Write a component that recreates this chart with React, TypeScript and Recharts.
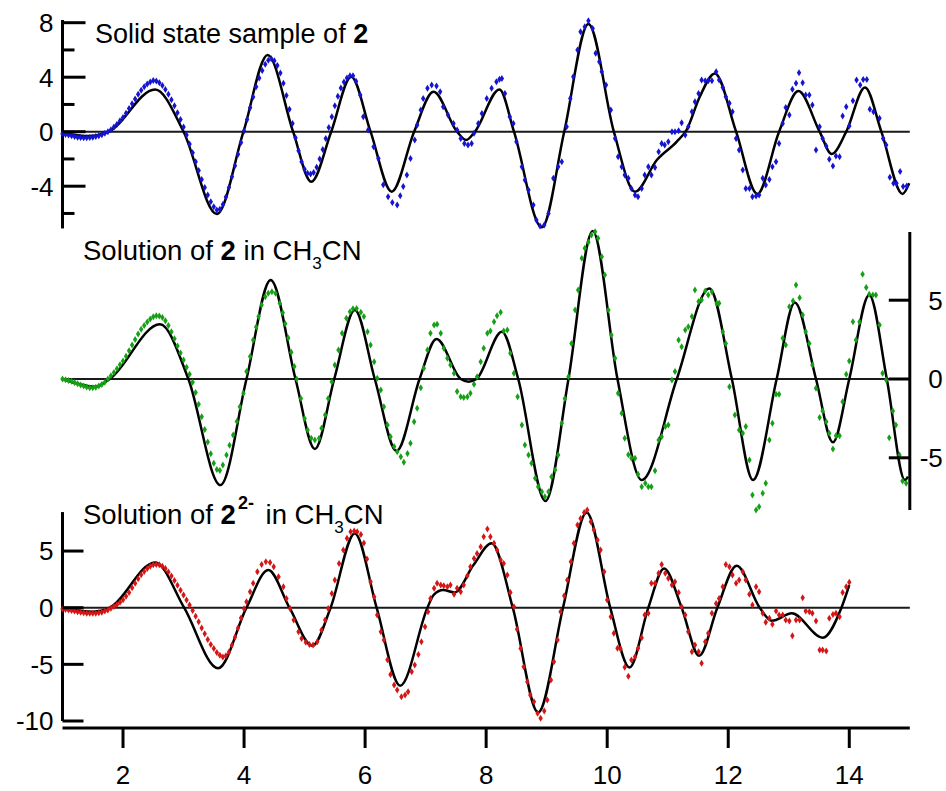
import React from 'react';
import { ComposedChart, Line, Scatter, XAxis, YAxis, ReferenceLine } from 'recharts';

// ---- tick values ----
const X_TICKS = [2, 4, 6, 8, 10, 12, 14];
const TOP_TICKS = [-6, -4, -2, 0, 2, 4, 6, 8];
const TOP_MAJOR = [-4, 0, 4, 8];
const MID_TICKS = [-5, 0, 5];
const BOT_TICKS = [-10, -5, 0, 5];

// ---- solid state sample (blue) ----
const TOP_FIT: [number, number][] = [
  [1.0, -0.07], [1.43, -0.32], [1.76, 0], [2.53, 3.1], [3.0, 0], [3.55, -6.04], [3.99, 0],
  [4.39, 5.63], [4.81, 0], [5.11, -3.67], [5.44, 0], [5.77, 4.03], [6.09, 0], [6.44, -4.4],
  [6.81, 0], [7.13, 2.93], [7.52, 0], [7.67, -0.61], [7.815, 0], [8.22, 3.1], [8.46, 0],
  [8.92, -7.02], [9.29, 0], [9.69, 7.9], [10.11, 0], [10.46, -4.4], [10.82, -2.08],
  [11.15, -0.73], [11.31, 0.12], [11.53, 2.57], [11.78, 4.28], [12.13, 0], [12.48, -4.57],
  [12.84, 0], [13.16, 2.98], [13.51, 0], [13.71, -1.64], [13.95, 0], [14.26, 3.25],
  [14.53, 0], [14.88, -4.57], [14.99, -3.79],
];
const TOP_DOTS: [number, number][] = [
  [1.0, -0.15], [1.05, -0.2], [1.1, -0.25], [1.15, -0.3], [1.2, -0.35], [1.25, -0.4], [1.3, -0.42],
  [1.35, -0.45], [1.4, -0.45], [1.45, -0.42], [1.5, -0.4], [1.55, -0.35], [1.6, -0.3], [1.65, -0.22],
  [1.7, -0.12], [1.75, 0], [1.8, 0.15], [1.85, 0.35], [1.9, 0.55], [1.95, 0.8], [2.0, 1.05],
  [2.05, 1.35], [2.1, 1.7], [2.15, 2.05], [2.2, 2.4], [2.25, 2.75], [2.3, 3.05], [2.35, 3.3],
  [2.4, 3.5], [2.45, 3.65], [2.5, 3.75], [2.55, 3.72], [2.6, 3.6], [2.65, 3.4], [2.7, 3.1],
  [2.75, 2.75], [2.8, 2.35], [2.85, 1.9], [2.9, 1.4], [2.95, 0.9], [3.0, 0.35], [3.05, -0.25],
  [3.1, -0.9], [3.15, -1.55], [3.2, -2.2], [3.25, -2.85], [3.3, -3.5], [3.35, -4.1], [3.4, -4.65],
  [3.45, -5.15], [3.5, -5.5], [3.55, -5.75], [3.6, -5.7], [3.65, -5.35], [3.7, -4.8], [3.75, -4.1],
  [3.8, -3.3], [3.85, -2.5], [3.9, -1.65], [3.95, -0.8], [4.0, 0.05], [4.05, 0.9], [4.1, 1.75],
  [4.15, 2.55], [4.2, 3.3], [4.25, 3.95], [4.3, 4.5], [4.35, 4.95], [4.4, 5.25], [4.45, 5.35],
  [4.5, 5.2], [4.55, 4.85], [4.6, 4.3], [4.65, 3.55], [4.7, 2.65], [4.75, 1.65], [4.8, 0.6],
  [4.85, -0.45], [4.9, -1.4], [4.95, -2.2], [5.0, -2.75], [5.05, -3.05], [5.1, -3.1], [5.15, -3.0],
  [5.2, -2.6], [5.25, -2.0], [5.3, -1.3], [5.35, -0.5], [5.4, 0.3], [5.45, 1.1], [5.5, 1.9],
  [5.55, 2.6], [5.6, 3.2], [5.65, 3.65], [5.7, 3.95], [5.75, 4.1], [5.8, 4.1], [5.85, 3.7],
  [5.92, 2.69], [5.97, 1.1], [6.05, 0.12], [6.14, -1.1], [6.22, -1.96], [6.3, -3.9], [6.38, -4.77],
  [6.45, -5.2], [6.53, -5.38], [6.58, -4.7], [6.63, -4.03], [6.69, -3.18], [6.75, -1.96],
  [6.82, -0.61], [6.86, 0.49], [6.92, 1.59], [6.96, 2.44], [7.03, 3.18], [7.1, 3.42], [7.18, 3.35],
  [7.24, 2.93], [7.29, 1.83], [7.37, 1.22], [7.46, 0.61], [7.52, 0.12], [7.58, -0.5], [7.64, -0.86],
  [7.7, -0.98], [7.76, -0.86], [7.8, -0.12], [7.87, 0.61], [7.93, 1.34], [8.01, 2.44], [8.09, 3.18],
  [8.17, 3.67], [8.22, 3.85], [8.26, 3.91], [8.31, 2.81], [8.39, 1.1], [8.45, 0.61], [8.5, -0.73],
  [8.59, -2.57], [8.64, -3.55], [8.7, -4.28], [8.78, -5.38], [8.83, -6.48], [8.89, -6.92],
  [8.96, -6.85], [9.03, -6.0], [9.11, -3.42], [9.19, -2.57], [9.25, -2.2], [9.33, 0.37],
  [9.39, 2.44], [9.44, 4.03], [9.51, 5.99], [9.56, 7.33], [9.63, 7.7], [9.69, 8.14], [9.76, 7.58],
  [9.81, 5.75], [9.87, 5.13], [9.91, 4.4], [9.98, 3.42], [10.06, 1.59], [10.13, -0.49],
  [10.18, -1.83], [10.24, -2.57], [10.29, -3.18], [10.35, -3.42], [10.4, -4.16], [10.46, -4.65],
  [10.51, -4.77], [10.57, -4.16], [10.62, -3.18], [10.68, -2.57], [10.73, -3.18], [10.79, -2.62],
  [10.85, -1.47], [10.9, -0.86], [10.95, -0.98], [11.01, -0.73], [11.07, 0], [11.12, 0],
  [11.18, 0.07], [11.23, 0.66], [11.29, -0.24], [11.34, 0.37], [11.4, 1.47], [11.45, 2.2],
  [11.51, 2.81], [11.56, 3.79], [11.62, 3.74], [11.67, 3.74], [11.73, 3.74], [11.8, 4.4],
  [11.85, 3.79], [11.91, 3.25], [11.96, 2.57], [12.02, 2.08], [12.07, 1.47], [12.13, -0.49],
  [12.18, -1.34], [12.24, -2.81], [12.29, -4.16], [12.35, -4.16], [12.4, -4.77], [12.46, -4.72],
  [12.51, -4.65], [12.57, -3.42], [12.62, -3.91], [12.68, -3.5], [12.73, -2.57], [12.79, -2.2],
  [12.84, -0.86], [12.9, 0.61], [12.95, 1.78], [13.01, 1.22], [13.06, 3.11], [13.12, 3.55],
  [13.17, 4.33], [13.23, 3.59], [13.28, 2.69], [13.34, 2.69], [13.39, 1.96], [13.45, -1.34],
  [13.51, 0.37], [13.56, -0.49], [13.62, -1.05], [13.67, -2.03], [13.73, -2.52], [13.78, -1.78],
  [13.84, -1.83], [13.89, 1.15], [13.95, 1.83], [14.0, 0.42], [14.06, 2.27], [14.12, 3.79],
  [14.18, 3.42], [14.23, 3.84], [14.29, 3.84], [14.34, 1.64], [14.4, 1.47], [14.5, 0.98],
  [14.56, -0.49], [14.61, -0.98], [14.67, -3.35], [14.73, -3.79], [14.78, -3.79], [14.84, -2.93],
  [14.89, -4.03], [14.95, -3.99],
];

// ---- solution of 2 in CH3CN (green) ----
const MID_FIT: [number, number][] = [
  [1.0, 0], [1.54, -0.49], [1.78, 0], [2.61, 3.47], [3.08, 0], [3.61, -6.73], [4.04, 0],
  [4.44, 6.28], [4.85, 0], [5.17, -4.44], [5.49, 0], [5.83, 4.38], [6.16, 0], [6.52, -4.57],
  [6.9, 0], [7.18, 2.54], [7.58, 0], [7.71, -0.17], [7.84, 0], [8.26, 3.0], [8.53, 0],
  [8.98, -7.74], [9.36, 0], [9.76, 9.39], [10.17, 0], [10.57, -6.41], [11.15, 0], [11.69, 5.75],
  [12.06, 0], [12.41, -6.41], [12.8, 0], [13.1, 4.86], [13.45, 0], [13.73, -4.02], [14.0, 0],
  [14.33, 5.33], [14.62, 0], [14.92, -6.41], [14.97, -6.2],
];
const MID_DOTS: [number, number][] = [
  [1.0, 0], [1.05, -0.05], [1.1, -0.1], [1.15, -0.15], [1.2, -0.22], [1.25, -0.3], [1.3, -0.38],
  [1.35, -0.45], [1.4, -0.5], [1.45, -0.55], [1.5, -0.55], [1.55, -0.52], [1.6, -0.45], [1.65, -0.35],
  [1.7, -0.2], [1.75, 0], [1.8, 0.2], [1.85, 0.42], [1.9, 0.65], [1.95, 0.9], [2.0, 1.15],
  [2.05, 1.45], [2.1, 1.8], [2.15, 2.15], [2.2, 2.5], [2.25, 2.85], [2.3, 3.15], [2.35, 3.4],
  [2.4, 3.62], [2.45, 3.8], [2.5, 3.95], [2.55, 4.02], [2.6, 4.0], [2.65, 3.9], [2.7, 3.7],
  [2.75, 3.4], [2.8, 3.0], [2.85, 2.55], [2.9, 2.1], [2.95, 1.65], [3.0, 1.2], [3.05, 0.75],
  [3.1, 0.3], [3.15, -0.2], [3.2, -0.85], [3.25, -1.6], [3.3, -2.4], [3.35, -3.2], [3.4, -4.0],
  [3.45, -4.75], [3.5, -5.35], [3.55, -5.75], [3.6, -5.8], [3.65, -5.45], [3.71, -4.82], [3.76, -4.2],
  [3.82, -3.55], [3.88, -2.7], [3.93, -1.76], [3.99, -0.91], [4.04, 0.47], [4.1, 1.42], [4.15, 2.47],
  [4.2, 3.3], [4.24, 3.96], [4.29, 4.7], [4.35, 5.22], [4.4, 5.44], [4.46, 5.54], [4.52, 5.44],
  [4.59, 4.8], [4.64, 4.2], [4.68, 3.5], [4.73, 2.6], [4.78, 1.7], [4.83, 0.8], [4.87, 0],
  [4.94, -1.23], [5.0, -2.5], [5.05, -3.24], [5.11, -3.76], [5.17, -3.87], [5.24, -3.76],
  [5.28, -3.13], [5.34, -2.28], [5.39, -1.23], [5.45, -0.17], [5.5, 0.89], [5.56, 1.84], [5.62, 2.9],
  [5.69, 3.85], [5.75, 4.27], [5.8, 4.45], [5.86, 4.48], [5.93, 4.23], [5.98, 3.96], [6.04, 3.0],
  [6.09, 2.16], [6.15, 1.1], [6.2, 0.04], [6.26, -0.7], [6.31, -1.76], [6.37, -2.92], [6.42, -3.66],
  [6.48, -4.29], [6.53, -4.61], [6.59, -4.93], [6.64, -5.29], [6.7, -4.72], [6.75, -4.08],
  [6.81, -2.71], [6.86, -1.86], [6.92, -0.55], [6.97, 0.68], [7.03, 1.84], [7.08, 2.9], [7.14, 3.43],
  [7.19, 3.47], [7.25, 2.9], [7.3, 1.95], [7.36, 1.31], [7.41, 0.89], [7.47, 0.36], [7.52, -0.8],
  [7.58, -1.12], [7.63, -1.18], [7.69, -1.12], [7.74, -0.91], [7.8, -0.34], [7.85, 0.15], [7.91, 1.1],
  [7.96, 1.95], [8.02, 2.9], [8.07, 3.05], [8.13, 3.64], [8.18, 4.02], [8.24, 4.23], [8.29, 3.05],
  [8.35, 3.11], [8.4, 1.63], [8.46, 0.36], [8.52, -1.12], [8.59, -2.92], [8.64, -4.19], [8.7, -4.82],
  [8.75, -5.35], [8.81, -6.3], [8.86, -6.83], [8.92, -7.15], [8.97, -7.47], [9.03, -7.15],
  [9.08, -6.2], [9.14, -5.77], [9.19, -4.82], [9.25, -2.81], [9.3, -1.23], [9.36, 0.15], [9.41, 2.26],
  [9.47, 4.38], [9.52, 5.65], [9.58, 7.66], [9.63, 8.29], [9.69, 8.67], [9.74, 9.14], [9.8, 9.35],
  [9.85, 8.93], [9.91, 7.76], [9.96, 6.6], [10.02, 4.38], [10.07, 2.79], [10.13, 1.31],
  [10.18, -0.91], [10.24, -2.18], [10.29, -3.76], [10.35, -4.8], [10.4, -5.03], [10.46, -5.03],
  [10.51, -6.05], [10.57, -6.83], [10.63, -6.62], [10.68, -6.83], [10.73, -6.83], [10.79, -5.82],
  [10.85, -3.87], [10.9, -3.66], [10.96, -3.02], [11.01, -2.92], [11.07, -0.06], [11.12, 0.47],
  [11.18, 2.47], [11.23, 2.05], [11.29, 3.11], [11.34, 3.32], [11.4, 3.96], [11.45, 5.65],
  [11.51, 4.91], [11.56, 5.01], [11.62, 5.58], [11.67, 5.33], [11.73, 5.54], [11.81, 4.8],
  [11.85, 4.8], [11.91, 3.0], [11.96, 2.26], [12.02, -0.49], [12.11, -2.28], [12.18, -3.24],
  [12.24, -3.45], [12.29, -3.02], [12.35, -5.14], [12.4, -7.36], [12.46, -8.31], [12.51, -8.1],
  [12.57, -7.25], [12.62, -6.62], [12.68, -3.87], [12.73, -2.81], [12.79, -0.97], [12.84, -0.97],
  [12.9, 2.58], [12.95, 2.16], [13.01, 4.59], [13.07, 4.95], [13.12, 5.96], [13.18, 5.16],
  [13.23, 4.06], [13.28, 3.0], [13.34, 2.26], [13.39, 0.89], [13.45, -0.59], [13.51, -2.45],
  [13.56, -2.03], [13.62, -2.71], [13.67, -3.45], [13.73, -4.44], [13.78, -3.6], [13.84, -3.6],
  [13.89, -1.44], [13.95, 0.3], [14.0, 1.14], [14.06, 3.64], [14.11, 2.47], [14.17, 3.64],
  [14.22, 6.64], [14.28, 5.8], [14.33, 5.37], [14.39, 5.33], [14.44, 5.33], [14.5, 3.43],
  [14.55, 0.36], [14.61, -0.06], [14.66, -3.72], [14.72, -2.03], [14.77, -2.92], [14.83, -4.82],
  [14.88, -6.47], [14.94, -6.62],
];

// ---- solution of 2(2-) in CH3CN (red) ----
const BOT_FIT: [number, number][] = [
  [1.0, 0], [1.51, -0.35], [1.78, 0], [2.53, 4.0], [3.01, 0], [3.57, -5.35], [4.04, 0],
  [4.4, 3.32], [4.75, 0], [5.13, -3.35], [5.43, 0], [5.83, 6.56], [6.19, 0], [6.58, -6.88],
  [7.03, 0], [7.13, 1.12], [7.29, 1.56], [7.48, 1.35], [7.79, 3.76], [8.09, 5.68], [8.44, 0],
  [8.86, -9.24], [9.27, 0], [9.66, 8.41], [10.05, 0], [10.37, -5.28], [10.68, 0], [10.94, 3.47],
  [11.23, 0], [11.52, -4.24], [11.82, 0], [12.14, 3.71], [12.52, 0], [12.72, -1.15],
  [13.05, -0.5], [13.56, -2.65], [13.87, 0], [14.0, 2.0],
];
const BOT_DOTS: [number, number][] = [
  [1.0, -0.12], [1.05, -0.15], [1.1, -0.2], [1.15, -0.25], [1.2, -0.3], [1.25, -0.35], [1.3, -0.4],
  [1.35, -0.45], [1.4, -0.48], [1.45, -0.5], [1.5, -0.5], [1.55, -0.48], [1.6, -0.45], [1.65, -0.4],
  [1.7, -0.3], [1.75, -0.2], [1.8, -0.05], [1.85, 0.1], [1.9, 0.28], [1.95, 0.48], [2.0, 0.7],
  [2.05, 1.0], [2.1, 1.35], [2.15, 1.75], [2.2, 2.15], [2.25, 2.55], [2.3, 2.9], [2.35, 3.2],
  [2.4, 3.45], [2.45, 3.65], [2.5, 3.78], [2.55, 3.82], [2.6, 3.78], [2.65, 3.65], [2.7, 3.45],
  [2.75, 3.15], [2.8, 2.8], [2.85, 2.4], [2.9, 1.98], [2.95, 1.55], [3.0, 1.12], [3.05, 0.68],
  [3.1, 0.24], [3.15, -0.25], [3.2, -0.75], [3.25, -1.25], [3.3, -1.8], [3.35, -2.3], [3.4, -2.8],
  [3.45, -3.25], [3.5, -3.6], [3.55, -3.95], [3.6, -4.2], [3.65, -4.35], [3.7, -4.25], [3.75, -3.9],
  [3.8, -3.3], [3.85, -2.6], [3.9, -1.8], [3.95, -0.9], [4.0, -0.1], [4.04, 0.53], [4.1, 1.41],
  [4.15, 2.15], [4.22, 3.18], [4.29, 3.82], [4.36, 4.06], [4.43, 4.0], [4.49, 3.62], [4.57, 2.74],
  [4.65, 1.85], [4.7, 0.82], [4.76, -0.06], [4.82, -1.09], [4.9, -2.12], [4.95, -2.71], [5.02, -3.06],
  [5.08, -3.24], [5.14, -3.29], [5.21, -3.0], [5.28, -1.97], [5.34, -1.09], [5.39, -0.06],
  [5.45, 1.26], [5.5, 2.44], [5.57, 3.91], [5.64, 5.1], [5.7, 6.12], [5.76, 6.71], [5.82, 6.76],
  [5.87, 6.71], [5.93, 6.47], [5.98, 5.7], [6.03, 4.3], [6.09, 2.29], [6.15, 0.97], [6.2, -0.65],
  [6.26, -2.12], [6.31, -2.85], [6.37, -4.6], [6.42, -5.9], [6.48, -6.82], [6.53, -7.26],
  [6.6, -7.85], [6.66, -7.71], [6.71, -7.41], [6.77, -5.65], [6.82, -5.06], [6.88, -4.12],
  [6.93, -3.0], [6.99, -1.68], [7.04, -0.35], [7.08, 0.82], [7.14, 1.71], [7.19, 2.15], [7.25, 2.0],
  [7.3, 1.94], [7.36, 1.85], [7.41, 2.0], [7.47, 1.18], [7.52, 1.71], [7.58, 1.41], [7.63, 2.0],
  [7.69, 2.82], [7.74, 3.62], [7.8, 4.35], [7.85, 4.79], [7.91, 5.38], [7.96, 6.26], [8.02, 6.94],
  [8.07, 6.26], [8.13, 5.68], [8.18, 5.09], [8.24, 4.21], [8.29, 3.91], [8.35, 2.88], [8.4, 1.35],
  [8.46, 0.09], [8.51, -1.9], [8.57, -3.6], [8.62, -5.21], [8.68, -6.53], [8.73, -7.71],
  [8.79, -8.29], [8.85, -9.32], [8.9, -9.76], [8.96, -9.12], [9.01, -8.15], [9.07, -6.38],
  [9.12, -4.76], [9.18, -2.85], [9.23, -0.35], [9.29, 1.06], [9.34, 2.44], [9.4, 4.06], [9.45, 5.68],
  [9.51, 7.29], [9.56, 7.88], [9.62, 8.41], [9.67, 8.62], [9.73, 7.59], [9.78, 6.85], [9.84, 5.97],
  [9.89, 5.09], [9.95, 3.18], [10.0, 0.68], [10.06, -0.79], [10.11, -2.26], [10.17, -3.59],
  [10.22, -3.65], [10.29, -5.25], [10.35, -6.05], [10.4, -4.62], [10.46, -4.32], [10.51, -3.59],
  [10.57, -2.65], [10.62, -0.65], [10.68, -0.5], [10.73, 2.15], [10.79, 2.15], [10.85, 3.03],
  [10.9, 3.82], [10.96, 3.03], [11.01, 2.59], [11.07, 2.0], [11.12, 2.29], [11.18, 1.35],
  [11.23, 0.09], [11.29, -0.65], [11.34, -2.12], [11.4, -3.88], [11.45, -3.29], [11.51, -3.88],
  [11.56, -4.91], [11.62, -3.0], [11.67, -2.26], [11.73, -0.5], [11.8, 0.38], [11.85, 0.82],
  [11.91, 1.85], [11.96, 3.82], [12.02, 3.62], [12.07, 2.88], [12.13, 2.15], [12.18, 2.44],
  [12.24, 3.18], [12.29, 2.44], [12.35, 1.18], [12.4, 0.24], [12.46, 1.85], [12.51, 1.41],
  [12.57, -0.5], [12.62, -1.29], [12.68, -0.94], [12.73, -1.47], [12.79, -0.29], [12.84, -0.65],
  [12.9, -0.65], [12.95, -1.09], [13.01, -1.18], [13.06, -2.47], [13.12, -1.09], [13.18, -1.09],
  [13.23, 0.88], [13.28, -0.29], [13.34, -0.35], [13.39, -0.5], [13.45, -1.18], [13.51, -3.74],
  [13.56, -3.74], [13.62, -3.82], [13.67, -0.94], [13.73, -0.59], [13.78, -0.5], [13.84, -0.79],
  [13.89, 1.35], [13.95, 1.85], [14.0, 2.24],
];

// ---- layout ----
const W = 946;
const H = 791;
const PLOT = { left: 62.5, right: 909.8, top: 10, bottom: 728 };
const X_AXIS_H = 50;
const FONT = '"Liberation Sans", Arial, sans-serif';
const BLUE = '#1414d2';
const GREEN = '#16a016';
const RED = '#d41616';

// pixel row of y=0, pixels per unit, visible extent of the axis line
const PANELS = {
  top: { zero: 131.7, ppu: 13.625, axis: [-7.1, 8.2] },
  mid: { zero: 379, ppu: 15.76, axis: [-8.31, 9.33] },
  bot: { zero: 607.7, ppu: 11.33, axis: [-10, 8.44] },
};
const domainFor = (p: { zero: number; ppu: number }) =>
  [(p.zero - PLOT.bottom) / p.ppu, (p.zero - PLOT.top) / p.ppu];

const pts = (a: [number, number][]) => a.map(([x, y]) => ({ x, y }));

const Diamond = (props: any) => {
  const { cx, cy, fill } = props;
  if (cx == null || cy == null) return null;
  return (
    <polygon
      points={`${cx},${cy - 3.5} ${cx + 2.2},${cy} ${cx},${cy + 3.5} ${cx - 2.2},${cy}`}
      fill={fill}
    />
  );
};

const leftTick = (major: number[], len: number, minorLen: number) => (props: any) => {
  const { y, payload } = props;
  const v = payload.value;
  const isMajor = major.includes(v);
  return (
    <g>
      <line x1={PLOT.left} x2={PLOT.left + (isMajor ? len : minorLen)} y1={y} y2={y} stroke="#000" strokeWidth={3} />
      {isMajor && (
        <text x={PLOT.left - 9} y={y} dy="0.36em" textAnchor="end" fontSize={26} fontFamily={FONT} fill="#000">
          {v}
        </text>
      )}
    </g>
  );
};

const RightTick = (props: any) => {
  const { y, payload } = props;
  return (
    <g>
      <line x1={PLOT.right - 21} x2={PLOT.right} y1={y} y2={y} stroke="#000" strokeWidth={3} />
      <text x={PLOT.right + 33} y={y} dy="0.36em" textAnchor="end" fontSize={26} fontFamily={FONT} fill="#000">
        {payload.value}
      </text>
    </g>
  );
};

const TopTick = leftTick(TOP_MAJOR, 23, 12);
const BotTick = leftTick(BOT_TICKS, 21, 21);

export default function App() {
  const axisProps = { type: 'number' as const, dataKey: 'y', width: 1, interval: 0 as const, axisLine: false, tickLine: false, tickSize: 0, tickMargin: 0 };
  return (
    <div style={{ position: 'absolute', left: 0, top: 0, width: W, height: H, background: '#fff' }}>
      <ComposedChart
        width={W}
        height={H}
        margin={{ top: PLOT.top, left: PLOT.left - 2, right: W - PLOT.right - 1, bottom: H - PLOT.bottom - X_AXIS_H }}
      >
        <XAxis
          dataKey="x" type="number" domain={[1, 15]} ticks={X_TICKS} interval={0}
          height={X_AXIS_H} tickSize={20} tickMargin={18}
          axisLine={{ stroke: '#000', strokeWidth: 3 }}
          tickLine={{ stroke: '#000', strokeWidth: 3 }}
          tick={{ fill: '#000', fontSize: 26, fontFamily: FONT }}
        />
        <YAxis yAxisId="top" orientation="left" {...axisProps} domain={domainFor(PANELS.top)} ticks={TOP_TICKS} tick={TopTick} />
        <YAxis yAxisId="bot" orientation="left" {...axisProps} domain={domainFor(PANELS.bot)} ticks={BOT_TICKS} tick={BotTick} />
        <YAxis yAxisId="mid" orientation="right" {...axisProps} domain={domainFor(PANELS.mid)} ticks={MID_TICKS} tick={RightTick} />

        {/* zero lines */}
        <ReferenceLine yAxisId="top" y={0} stroke="#1a1a1a" strokeWidth={2} ifOverflow="visible" />
        <ReferenceLine yAxisId="mid" y={0} stroke="#1a1a1a" strokeWidth={2} ifOverflow="visible" />
        <ReferenceLine yAxisId="bot" y={0} stroke="#1a1a1a" strokeWidth={2} ifOverflow="visible" />

        {/* axis lines */}
        <ReferenceLine yAxisId="top" segment={[{ x: 1, y: PANELS.top.axis[0] }, { x: 1, y: PANELS.top.axis[1] }]} stroke="#000" strokeWidth={3} ifOverflow="visible" />
        <ReferenceLine yAxisId="mid" segment={[{ x: 15, y: PANELS.mid.axis[0] }, { x: 15, y: PANELS.mid.axis[1] }]} stroke="#000" strokeWidth={3} ifOverflow="visible" />
        <ReferenceLine yAxisId="bot" segment={[{ x: 1, y: PANELS.bot.axis[0] }, { x: 1, y: PANELS.bot.axis[1] }]} stroke="#000" strokeWidth={3} ifOverflow="visible" />

        <Scatter yAxisId="top" data={pts(TOP_DOTS)} dataKey="y" fill={BLUE} shape={Diamond} isAnimationActive={false} />
        <Scatter yAxisId="mid" data={pts(MID_DOTS)} dataKey="y" fill={GREEN} shape={Diamond} isAnimationActive={false} />
        <Scatter yAxisId="bot" data={pts(BOT_DOTS)} dataKey="y" fill={RED} shape={Diamond} isAnimationActive={false} />

        <Line yAxisId="top" data={pts(TOP_FIT)} dataKey="y" type="monotone" stroke="#000" strokeWidth={2.5} dot={false} activeDot={false} isAnimationActive={false} />
        <Line yAxisId="mid" data={pts(MID_FIT)} dataKey="y" type="monotone" stroke="#000" strokeWidth={2.5} dot={false} activeDot={false} isAnimationActive={false} />
        <Line yAxisId="bot" data={pts(BOT_FIT)} dataKey="y" type="monotone" stroke="#000" strokeWidth={2.5} dot={false} activeDot={false} isAnimationActive={false} />
      </ComposedChart>

      {/* panel titles */}
      <svg width={W} height={H} style={{ position: 'absolute', left: 0, top: 0, pointerEvents: 'none' }} fontFamily={FONT} fill="#000">
        <text x={95} y={43} fontSize={27}>
          Solid state sample of <tspan fontWeight="bold">2</tspan>
        </text>
        <text x={83} y={260} fontSize={27.5}>
          Solution of <tspan fontWeight="bold">2</tspan> in CH<tspan fontSize={17} dy={9}>3</tspan><tspan dy={-9}>CN</tspan>
        </text>
        <text x={83} y={524} fontSize={27.5}>
          Solution of <tspan fontWeight="bold">2</tspan><tspan fontWeight="bold" fontSize={18} dx={2} dy={-15}>2-</tspan><tspan dx={4} dy={15}> in CH</tspan><tspan fontSize={17} dy={9}>3</tspan><tspan dy={-9}>CN</tspan>
        </text>
      </svg>
    </div>
  );
}
